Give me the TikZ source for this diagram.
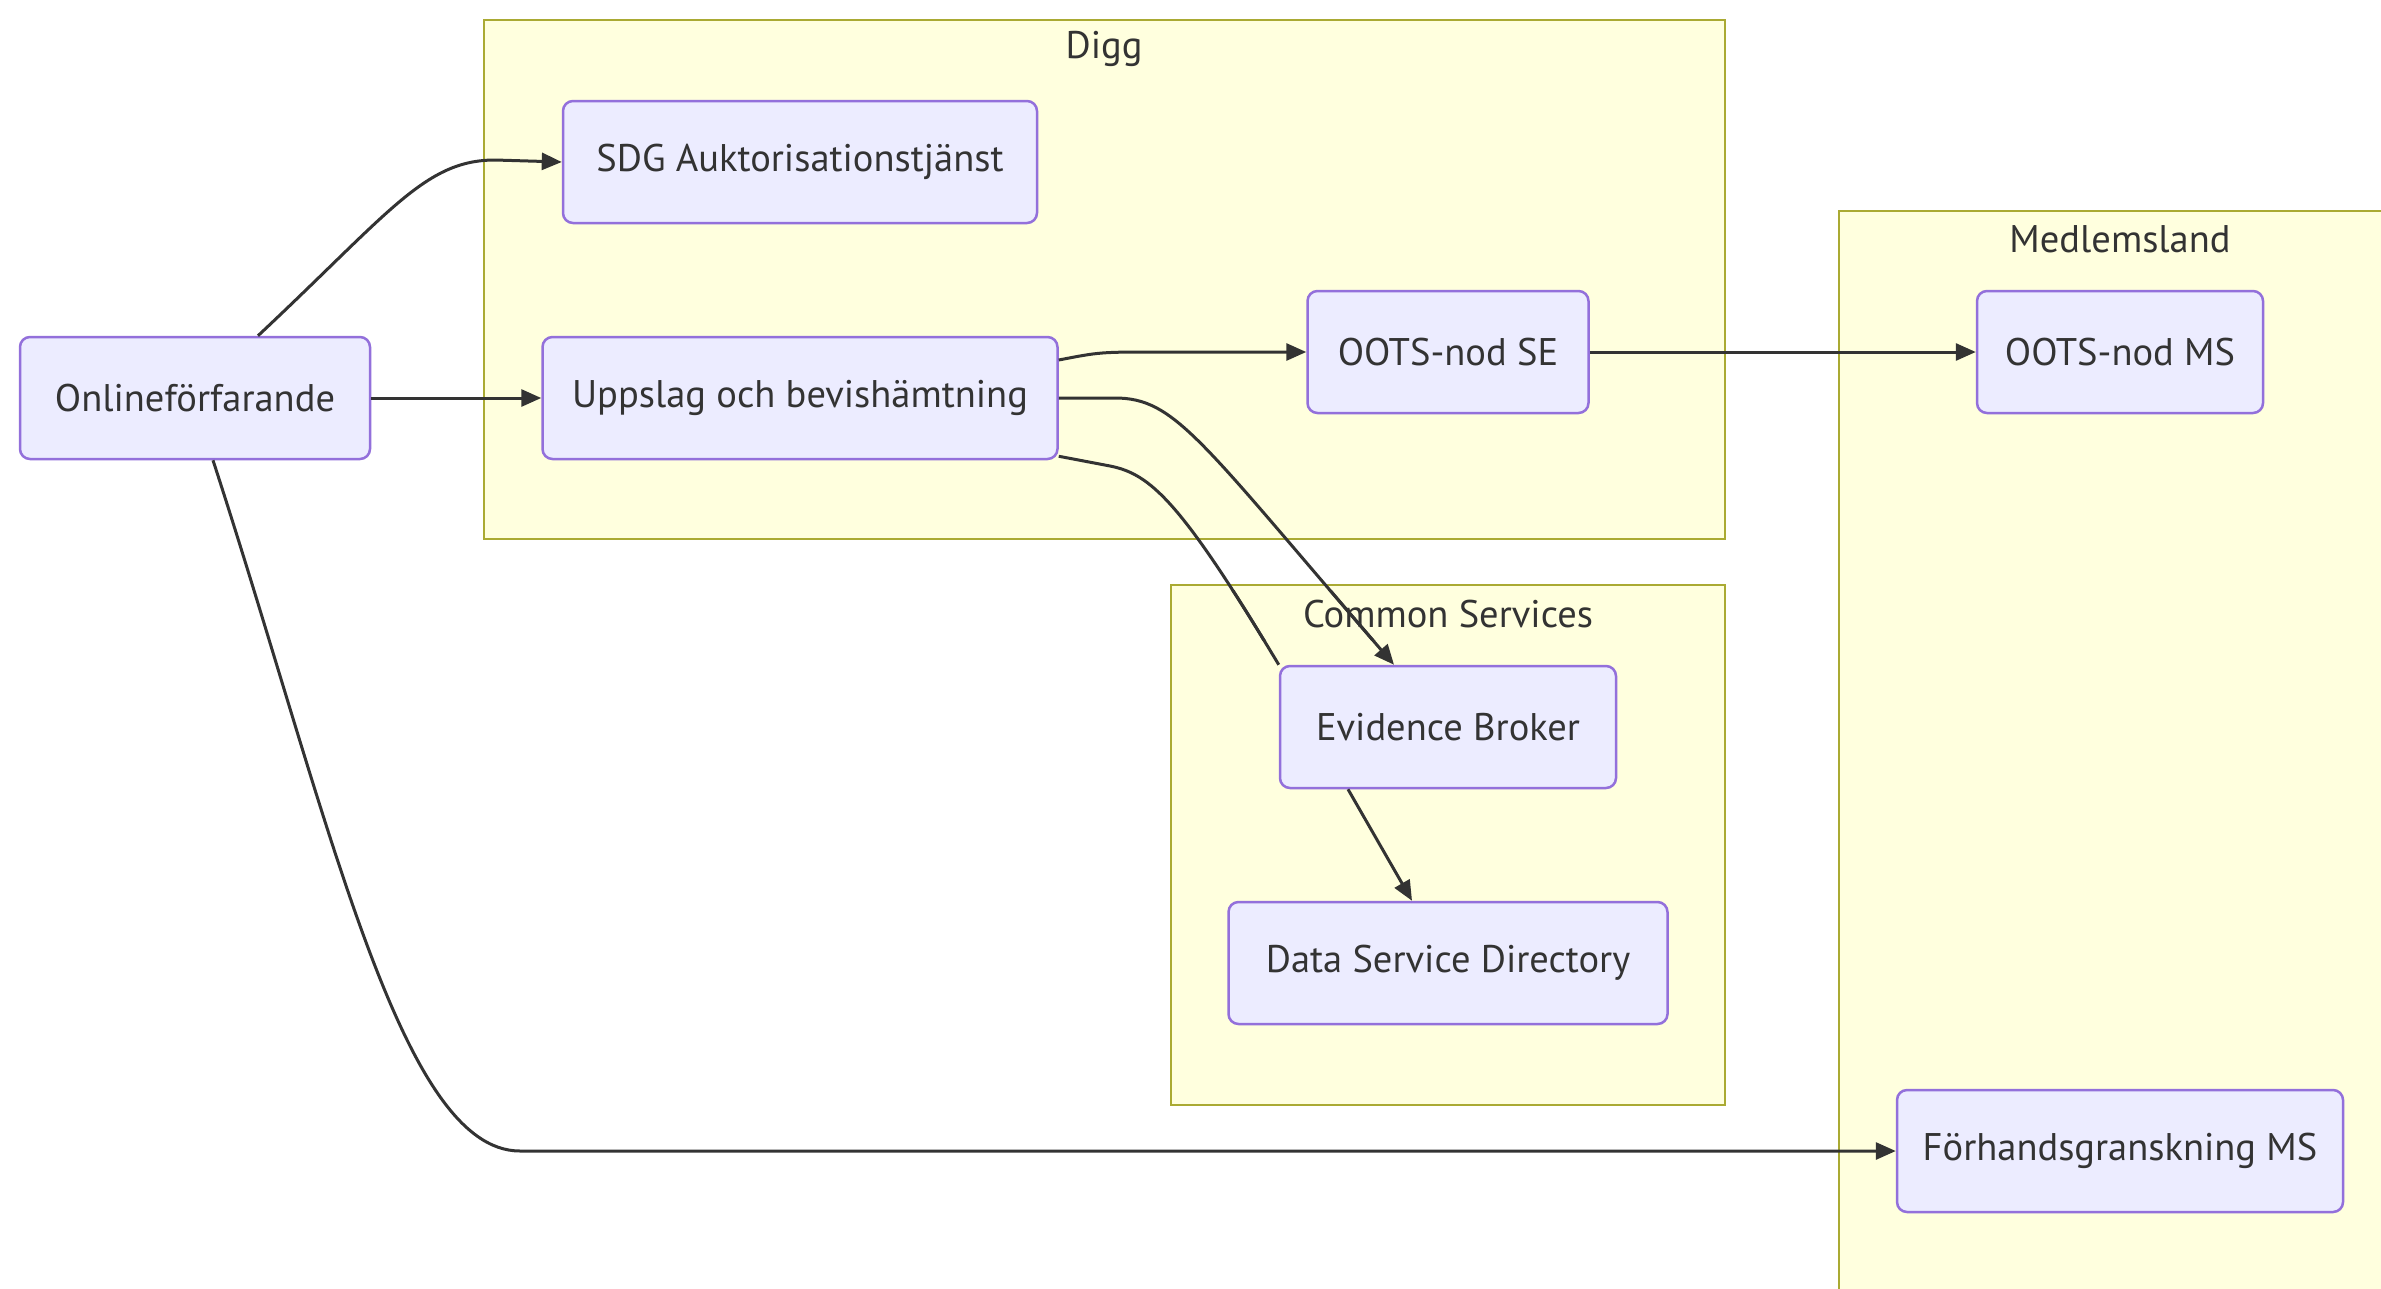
\documentclass[tikz,border=0pt]{standalone}
\usepackage{fontspec}
\setmainfont{PT Sans}
\usetikzlibrary{arrows.meta,calc}
\definecolor{nodefill}{HTML}{ECECFF}
\definecolor{nodeborder}{HTML}{9370DB}
\definecolor{clusterfill}{HTML}{FFFFDE}
\definecolor{clusterborder}{HTML}{AAAA33}
\definecolor{txt}{HTML}{333333}
\definecolor{edgecol}{HTML}{333333}
\begin{document}
\begin{tikzpicture}[x=1pt,y=-1pt,
  box/.style={draw=nodeborder, fill=nodefill, line width=2.5pt, rounded corners=10pt,
    text=txt, font=\fontsize{38.5}{45}\selectfont, inner sep=0pt, minimum height=122pt},
  cluster/.style={draw=clusterborder, fill=clusterfill, line width=2.5pt},
  clabel/.style={text=txt, font=\fontsize{38.5}{45}\selectfont, inner sep=0pt},
  link/.style={draw=edgecol, line width=3pt},
  arr/.style={link, -{Triangle[length=20pt,width=17pt]}}]
\useasboundingbox (0,0) rectangle (2381,1288);
\clip (0,0) rectangle (2381,1288);
\fill[white] (0,0) rectangle (2381,1288);
% clusters
\draw[cluster] (484,20) rectangle (1725,539);
\node[clabel] (digglabel) at (1104,49) {Digg};
\draw[cluster] (1171,585) rectangle (1725,1105);
\draw[cluster] (1839,211) rectangle (2400,1310);
\node[clabel] (medlabel) at (2120,239) {Medlemsland};
% nodes
\node[box, minimum width=350pt] (online) at (195,398) {Onlineförfarande};
\node[box, minimum width=474pt] (sdg) at (800,162) {SDG Auktorisationstjänst};
\node[box, minimum width=515pt] (upp) at (800,398) {Uppslag och bevishämtning};
\node[box, minimum width=281pt] (ootsse) at (1448,352) {OOTS-nod SE};
\node[box, minimum width=286pt] (ootsms) at (2120,352) {OOTS-nod MS};
\node[box, minimum width=336pt] (eb) at (1448,727) {Evidence Broker};
\node[box, minimum width=439pt] (dsd) at (1448,963) {Data Service Directory};
\node[box, minimum width=446pt] (forh) at (2120,1151) {Förhandsgranskning MS};
% edges
\draw[arr] ($(online.north)+(63,0)$) .. controls (390,212) and (425,160) .. (495,160) -- (sdg.west);
\draw[arr] (online.east) -- (upp.west);
\draw[arr] ($(online.south)+(18,0)$) .. controls (330,820) and (400,1151) .. (520,1151) -- (forh.west);
\draw[arr] ($(upp.east)+(0,-38)$) .. controls (1100,352) .. (1160,352) -- (ootsse.west);
\draw[arr] (upp.east) -- (1115,398) .. controls (1175,398) and (1200,440) .. ($(eb.north)+(-54,0)$);
\draw[link] ($(upp.south east)+(0,-4)$) -- (1110,466) .. controls (1150,474) and (1180,500) .. (eb.north west);
\draw[arr] (ootsse.east) -- (ootsms.west);
\draw[arr] ($(eb.south)+(-100,0)$) -- ($(dsd.north)+(-36,0)$);
% cluster label drawn above edges
\node[clabel] (cslabel) at (1448,614) {Common Services};
% redraw edge over label as in reference
\begin{scope}
\clip (1171,590) rectangle (1725,640);
\draw[link] (upp.east) -- (1115,398) .. controls (1175,398) and (1200,440) .. ($(eb.north)+(-54,0)$);
\draw[link] ($(upp.south east)+(0,-4)$) -- (1110,466) .. controls (1150,474) and (1180,500) .. (eb.north west);
\end{scope}
\end{tikzpicture}
\end{document}
